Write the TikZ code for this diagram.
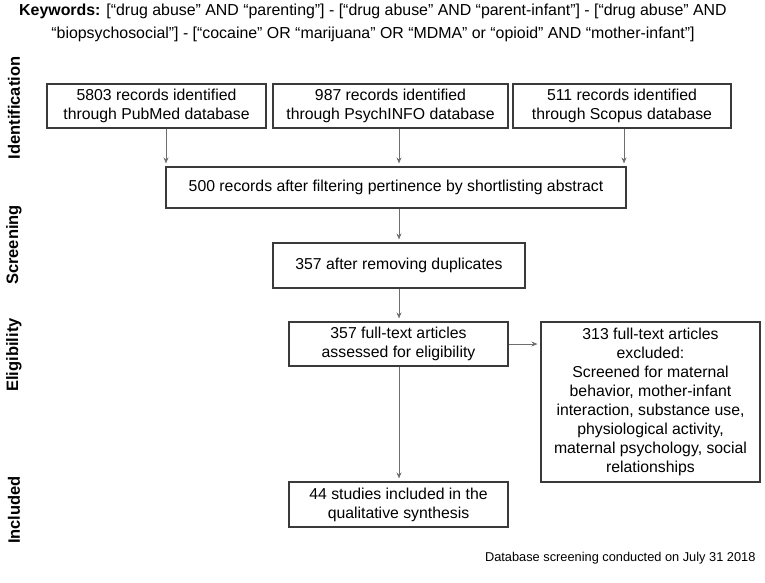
\documentclass[tikz,border=0pt]{standalone}
\usepackage{fontspec}
\setmainfont{Liberation Sans}
\usetikzlibrary{arrows.meta}
\definecolor{boxline}{HTML}{3A3A3A}
\definecolor{arrline}{HTML}{6E6E6E}
\tikzset{
  flowbox/.style={draw=boxline, line width=1.1pt, inner sep=0pt, align=center,
    font=\fontsize{15.8}{19}\selectfont},
  arr/.style={draw=arrline, line width=0.9pt, -{Stealth[length=6pt,width=5pt]}, shorten >=3pt},
  phase/.style={rotate=90, font=\fontsize{16.5}{20}\selectfont\bfseries},
}
\begin{document}
\begin{tikzpicture}[x=1pt,y=-1pt]
\useasboundingbox (0,0) rectangle (765,582);
\node[align=center, font=\fontsize{15.9}{23}\selectfont] (kw) at (373,23)
  {\textbf{Keywords:} [“drug abuse” AND “parenting”] - [“drug abuse” AND “parent-infant”] - [“drug abuse” AND\\
   “biopsychosocial”] - [“cocaine” OR “marijuana” OR “MDMA” or “opioid” AND “mother-infant”]};

\node[phase] (pid) at (14,108) {Identification};
\node[phase] (psc) at (14,245) {Screening};
\node[phase] (pel) at (14,355) {Eligibility};
\node[phase] (pin) at (14,510) {Included};

\node[flowbox, minimum width=219pt, minimum height=44pt] (b1) at (156.5,106)
  {5803 records identified\\through PubMed database};
\node[flowbox, minimum width=235pt, minimum height=44pt] (b2) at (390.5,106)
  {987 records identified\\through PsychINFO database};
\node[flowbox, minimum width=218pt, minimum height=44pt] (b3) at (622,106)
  {511 records identified\\through Scopus database};
\node[flowbox, minimum width=460pt, minimum height=41pt] (s) at (396,187.5)
  {500 records after filtering pertinence by shortlisting abstract};
\node[flowbox, minimum width=252pt, minimum height=45pt] (d) at (399,265.5)
  {357 after removing duplicates};
\node[flowbox, minimum width=219pt, minimum height=44pt] (f) at (398.5,344)
  {357 full-text articles\\assessed for eligibility};
\node[flowbox, minimum width=219pt, minimum height=160pt] (e) at (650.5,402)
  {313 full-text articles\\excluded:\\Screened for maternal\\behavior, mother-infant\\interaction, substance use,\\physiological activity,\\maternal psychology, social\\relationships};
\node[flowbox, minimum width=219pt, minimum height=45pt] (i) at (398.5,504.5)
  {44 studies included in the\\qualitative synthesis};

\node[anchor=east, font=\fontsize{12.8}{15}\selectfont] (foot) at (759,558)
  {Database screening conducted on July 31 2018};

\coordinate (c1) at (166,0);
\coordinate (c2) at (399,0);
\coordinate (c3) at (624,0);
\draw[arr] (b1.south -| c1) -- (s.north -| c1);
\draw[arr] (b2.south -| c2) -- (s.north -| c2);
\draw[arr] (b3.south -| c3) -- (s.north -| c3);
\draw[arr] (s.south -| c2) -- (d.north -| c2);
\draw[arr] (d.south -| c2) -- (f.north -| c2);
\draw[arr] (f.south -| c2) -- (i.north -| c2);
\draw[arr] (f.east) -- (e.west |- f.east);
\end{tikzpicture}
\end{document}
